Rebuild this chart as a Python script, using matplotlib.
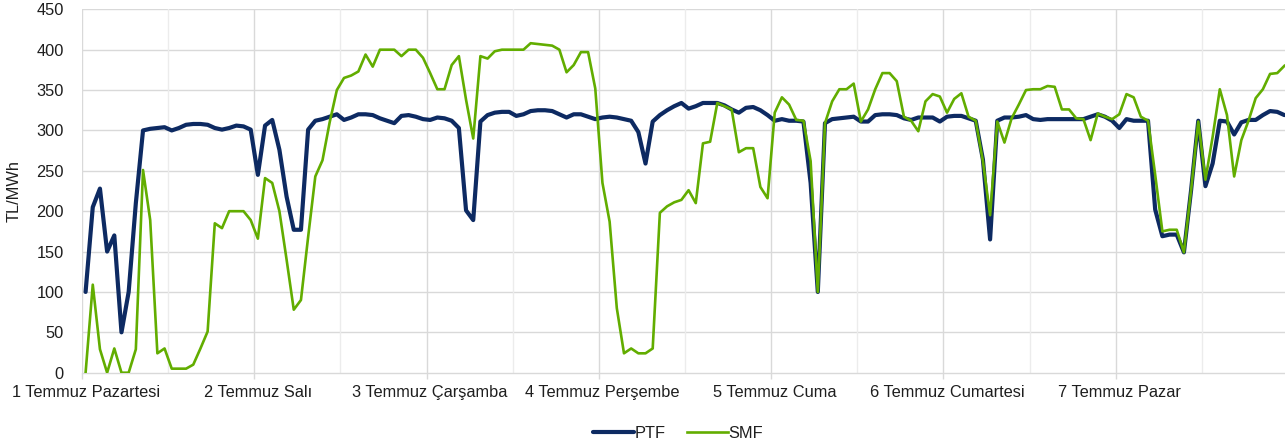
import matplotlib
matplotlib.use("Agg")
import matplotlib.pyplot as plt
import numpy as np

plt.rcParams['font.family'] = ['Liberation Sans', 'DejaVu Sans']

days = ["1 Temmuz Pazartesi", "2 Temmuz Salı", "3 Temmuz Çarşamba", "4 Temmuz Perşembe",
        "5 Temmuz Cuma", "6 Temmuz Cumartesi", "7 Temmuz Pazar"]
hours_per_day = 24

ptf = [
    # 1 Temmuz
    100, 205, 228, 150, 170, 50, 100, 210, 300, 302, 303, 304,
    300, 303, 307, 308, 308, 307, 303, 301, 303, 306, 305, 301,
    # 2 Temmuz
    245, 306, 313, 276, 218, 177, 177, 301, 312, 314, 317, 320,
    313, 316, 320, 320, 319, 315, 312, 309, 318, 319, 317, 314,
    # 3 Temmuz
    313, 316, 315, 312, 303, 201, 189, 311, 319, 322, 323, 323,
    318, 320, 324, 325, 325, 324, 320, 316, 320, 320, 317, 314,
    # 4 Temmuz
    316, 317, 316, 314, 312, 298, 259, 311, 319, 325, 330, 334,
    327, 330, 334, 334, 334, 331, 326, 322, 328, 329, 325, 319,
    # 5 Temmuz
    312, 314, 312, 312, 311, 235, 100, 309, 314, 315, 316, 317,
    311, 311, 319, 320, 320, 319, 315, 313, 316, 316, 316, 311,
    # 6 Temmuz
    317, 318, 318, 315, 312, 264, 165, 312, 316, 316, 317, 319,
    314, 313, 314, 314, 314, 314, 314, 314, 317, 320, 317, 312,
    # 7 Temmuz
    303, 314, 312, 312, 312, 202, 169, 171, 171, 149, 226, 312,
    231, 259, 312, 311, 295, 310, 313, 313, 319, 324, 323, 319,
]
smf = [
    # 1 Temmuz
    0, 109, 29, 0, 30, 0, 0, 29, 251, 189, 24, 30,
    5, 5, 5, 10, 30, 51, 185, 179, 200, 200, 200, 189,
    # 2 Temmuz
    166, 241, 235, 200, 140, 78, 90, 168, 243, 263, 310, 350,
    365, 368, 373, 394, 379, 400, 400, 400, 392, 400, 400, 390,
    # 3 Temmuz
    371, 351, 351, 381, 392, 338, 290, 392, 389, 398, 400, 400,
    400, 400, 408, 407, 406, 405, 400, 372, 381, 397, 397, 352,
    # 4 Temmuz
    235, 187, 80, 24, 30, 24, 24, 30, 198, 206, 211, 214,
    226, 210, 284, 286, 334, 330, 326, 273, 278, 278, 230, 216,
    # 5 Temmuz
    322, 341, 332, 313, 312, 262, 100, 309, 336, 351, 351, 358,
    311, 326, 351, 371, 371, 361, 317, 312, 299, 336, 345, 342,
    # 6 Temmuz
    322, 339, 346, 317, 312, 262, 195, 311, 285, 315, 332, 350,
    351, 351, 355, 354, 326, 326, 315, 314, 288, 321, 317, 314,
    # 7 Temmuz
    320, 345, 341, 317, 312, 245, 175, 177, 177, 149, 226, 311,
    239, 292, 351, 319, 243, 288, 312, 340, 351, 370, 371, 380,
]

n = len(ptf)
x = np.arange(n) + 0.5

W, H = 1285, 446
fig = plt.figure(figsize=(W / 100, H / 100), dpi=100)
ax_left, ax_right, ax_top, ax_bottom = 82, 1288, 9.3, 372.7
ax = fig.add_axes([ax_left / W, 1 - ax_bottom / H, (ax_right - ax_left) / W, (ax_bottom - ax_top) / H])

navy = '#0d2a62'
green = '#62ad00'
grid_major = '#d9d9d9'
grid_minor = '#ececec'
text_col = '#1e1e1e'

# gridlines
for yv in range(50, 451, 50):
    ax.axhline(yv, color=grid_major, lw=1.0, zorder=0)
for k in range(0, len(days) + 1):
    ax.axvline(k * hours_per_day, color=grid_major, lw=1.0, zorder=0)
    ax.axvline(k * hours_per_day + hours_per_day / 2, color=grid_minor, lw=1.0, zorder=0)

ax.plot(x, ptf, color=navy, lw=3.0, solid_joinstyle='round', solid_capstyle='round', label='PTF', zorder=3)
ax.plot(x, smf, color=green, lw=1.9, solid_joinstyle='round', label='SMF', zorder=4)

ax.set_xlim(0, n)
ax.set_ylim(0, 450)
ax.set_yticks(range(0, 451, 50))
ax.tick_params(axis='y', length=0, pad=13, labelsize=11.8, labelcolor=text_col)

ax.set_xticks([k * hours_per_day + 0.5 for k in range(len(days))])
ax.set_xticklabels(days)
ax.set_xticks([k * hours_per_day for k in range(len(days) + 1)], minor=True)
ax.tick_params(axis='x', which='major', length=0, pad=9, labelsize=11.8, labelcolor=text_col)
ax.tick_params(axis='x', which='minor', length=4, width=1.0, color=grid_major)

for s in ['top', 'right', 'left']:
    ax.spines[s].set_visible(False)
ax.spines['bottom'].set_color(grid_major)
ax.spines['bottom'].set_linewidth(1.0)

ax.set_ylabel('TL/MWh', fontsize=11.8, color=text_col)
ax.yaxis.set_label_coords(-(82 - 22) / (ax_right - ax_left), 0.5)

leg = fig.legend(loc='center', bbox_to_anchor=(678 / W, 1 - 433 / H), ncol=2, frameon=False,
                 fontsize=11.8, handlelength=2.5, handletextpad=0.05, columnspacing=1.3,
                 labelcolor=text_col)

fig.savefig('out.png', dpi=100)
